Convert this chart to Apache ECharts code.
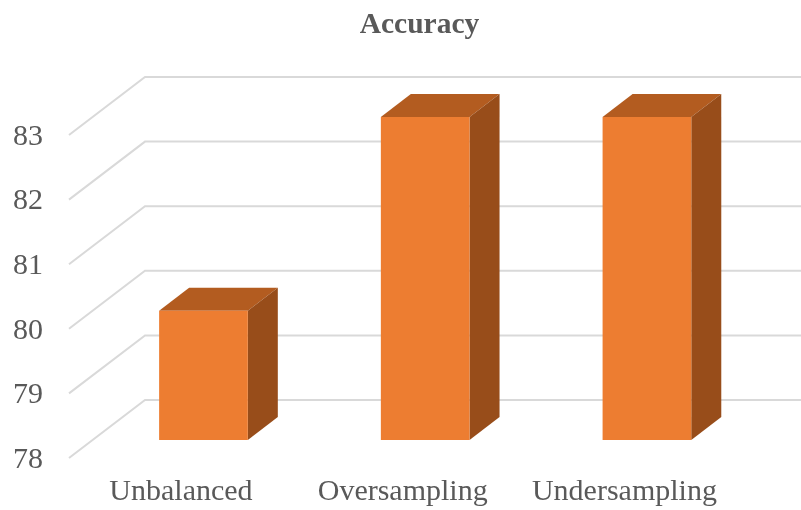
<!DOCTYPE html>
<html>
<head>
<meta charset="utf-8">
<style>html,body{margin:0;padding:0;background:#fff}#chart{width:801px;height:510px}</style>
<script src="https://cdn.jsdelivr.net/npm/echarts@6/dist/echarts.min.js"></script>
</head>
<body>
<div id="chart"></div>
<script>
// Accuracy by class-balancing strategy
const categories = ['Unbalanced', 'Oversampling', 'Undersampling'];
const accuracy = [80, 83, 83];
const yTicks = [78, 79, 80, 81, 82, 83];

// Oblique projection of the 3D column look
const DEPTH_X = 30;
const DEPTH_Y = 23;
const BAR_RATIO = 0.4;
const TEXT = '#595959';
const SERIF = '"Liberation Serif","Times New Roman",serif';

const chart = echarts.init(document.getElementById('chart'), null, { renderer: 'canvas' });

function renderWallLine(params, api) {
  const sys = params.coordSys;
  const y = api.coord([0, api.value(0)])[1];
  return {
    type: 'polyline',
    silent: true,
    shape: {
      points: [
        [sys.x - 23.6, y + 18],
        [sys.x + 52.4, y - 40],
        [sys.x + sys.width + 44, y - 40]
      ]
    },
    style: { stroke: '#D9D9D9', lineWidth: 2, fill: null }
  };
}

function renderColumn(params, api) {
  const top = api.coord([api.value(0), api.value(1)]);
  const base = api.coord([api.value(0), yTicks[0]]);
  const w = api.size([1, 0])[0] * BAR_RATIO;
  const l = top[0] - w / 2;
  const r = top[0] + w / 2;
  const t = top[1];
  const b = base[1];
  return {
    type: 'group',
    children: [
      {
        type: 'polygon',
        shape: { points: [[l, t], [l + DEPTH_X, t - DEPTH_Y], [r + DEPTH_X, t - DEPTH_Y], [r, t]] },
        style: { fill: '#B35C20' }
      },
      {
        type: 'polygon',
        shape: { points: [[r, t], [r + DEPTH_X, t - DEPTH_Y], [r + DEPTH_X, b - DEPTH_Y], [r, b]] },
        style: { fill: '#984D1A' }
      },
      {
        type: 'rect',
        shape: { x: l, y: t, width: w, height: b - t },
        style: { fill: '#ED7D31' }
      }
    ]
  };
}

const hiddenAxisParts = {
  axisLine: { show: false },
  axisTick: { show: false },
  splitLine: { show: false }
};

chart.setOption({
  animation: false,
  backgroundColor: '#fff',
  title: {
    text: 'Accuracy',
    left: 414.5,
    top: 5,
    textAlign: 'center',
    textStyle: { fontFamily: SERIF, fontSize: 29.5, fontWeight: 'bold', color: TEXT }
  },
  // Grid 0 is the plane of the column fronts; grid 1 is the front edge of the floor, which carries the labels.
  grid: [
    { left: 92.6, top: 117, width: 665.2, height: 323 },
    { left: 70.1, top: 137, width: 665.2, height: 323 }
  ],
  xAxis: [
    { type: 'category', gridIndex: 0, data: categories, ...hiddenAxisParts, axisLabel: { show: false } },
    {
      type: 'category',
      gridIndex: 1,
      data: categories,
      ...hiddenAxisParts,
      axisLabel: { interval: 0, margin: 17, fontFamily: SERIF, fontSize: 30, color: TEXT }
    }
  ],
  yAxis: [
    { type: 'value', gridIndex: 0, min: 78, max: 83, interval: 1, ...hiddenAxisParts, axisLabel: { show: false } },
    {
      type: 'value',
      gridIndex: 1,
      min: 78,
      max: 83,
      interval: 1,
      ...hiddenAxisParts,
      axisLabel: { margin: 27, fontFamily: SERIF, fontSize: 30, color: TEXT }
    }
  ],
  series: [
    {
      type: 'custom',
      coordinateSystem: 'cartesian2d',
      xAxisIndex: 0,
      yAxisIndex: 0,
      clip: false,
      z: 1,
      encode: { y: 0 },
      data: yTicks.map(v => [v]),
      renderItem: renderWallLine
    },
    {
      type: 'custom',
      coordinateSystem: 'cartesian2d',
      xAxisIndex: 0,
      yAxisIndex: 0,
      clip: false,
      z: 2,
      encode: { x: 0, y: 1 },
      data: accuracy.map((v, i) => [i, v]),
      renderItem: renderColumn
    }
  ]
});
</script>
</body>
</html>
